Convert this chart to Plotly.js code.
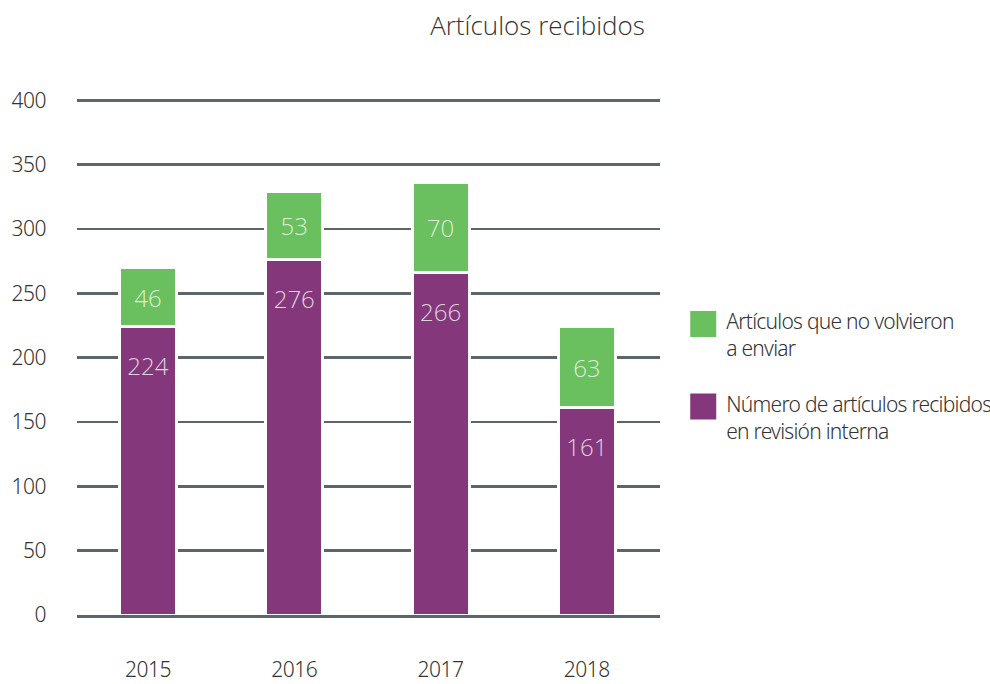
<!DOCTYPE html>
<html>
<head>
<meta charset="utf-8">
<script src="https://cdn.plot.ly/plotly-3.0.1.min.js"></script>
<style>
html,body{margin:0;padding:0;background:#fff;}
#chart{width:990px;height:684px;}
#chart .xtick text, #chart .ytick text { letter-spacing: -0.5px; }
#chart .legendtext { letter-spacing: -0.75px; }
#chart .legendpoints path { d: path("M10,16H-16V-10H10Z"); stroke-width: 0 !important; }
</style>
</head>
<body>
<div id="chart"></div>
<script>
const years = ['2015', '2016', '2017', '2018'];
const internos = [224, 276, 266, 161];
const noVolvieron = [46, 53, 70, 63];
const nameInternos = 'Número de artículos recibidos<br>en revisión interna';
const nameNoVolvieron = 'Artículos que no volvieron<br>a enviar';
const yTicks = [0, 50, 100, 150, 200, 250, 300, 350, 400];

const narrow = "Noto Sans, DejaVu Sans, sans-serif";
const light = "Open Sans, Lato, sans-serif";

const traces = [
  {
    type: 'bar', name: nameInternos, legendgroup: 'b', legendrank: 2, x: years, y: internos,
    text: internos.map(v => '<span style="font-size:13px">\u00a0</span><br>' + v),
    textposition: 'inside', insidetextanchor: 'end',
    textfont: {family: light, size: 24, weight: 300, color: '#dcd3dc'},
    marker: {color: '#84387b', line: {color: '#ffffff', width: 3}},
    width: 0.39, hoverinfo: 'x+y'
  },
  {
    type: 'bar', name: nameNoVolvieron, legendgroup: 'a', legendrank: 1, x: years, y: noVolvieron,
    text: noVolvieron.map(String), textposition: 'inside', insidetextanchor: 'middle',
    textfont: {family: light, size: 24, weight: 300, color: '#dcefd8'},
    marker: {color: '#6abf5e', line: {color: '#ffffff', width: 3}},
    width: 0.39, hoverinfo: 'x+y'
  }
];

const layout = {
  width: 990, height: 684,
  margin: {l: 77, r: 330, t: 99, b: 69, autoexpand: false},
  paper_bgcolor: '#ffffff', plot_bgcolor: '#ffffff',
  barmode: 'stack',
  showlegend: true,
  title: {text: 'Artículos recibidos', x: 0.543, xanchor: 'center', y: 0.962, yanchor: 'middle',
          font: {family: light, size: 26, weight: 300, color: '#333333'}},
  xaxis: {
    type: 'category', range: [-0.485, 3.5], showgrid: false, zeroline: false,
    showline: true, linecolor: '#5a656c', linewidth: 3, layer: 'above traces',
    ticks: '', ticklabelstandoff: 34,
    tickfont: {family: narrow, size: 21, weight: 300, color: '#333333'}
  },
  yaxis: {
    range: [0, 401], tickvals: yTicks, ticktext: yTicks.map(String),
    showgrid: true, gridcolor: '#5a656c', gridwidth: 2.5, zeroline: false,
    showline: false, ticks: '', ticklabelstandoff: 30,
    tickfont: {family: narrow, size: 21, weight: 300, color: '#333333'}
  },
  legend: {
    x: 1.045, xanchor: 'left', y: 0.609, yanchor: 'top', traceorder: 'grouped', valign: 'top',
    font: {family: narrow, size: 21, weight: 300, color: '#333333'},
    tracegroupgap: 25, bgcolor: 'rgba(0,0,0,0)'
  }
};

Plotly.newPlot('chart', traces, layout, {displayModeBar: false, staticPlot: true});
</script>
</body>
</html>
